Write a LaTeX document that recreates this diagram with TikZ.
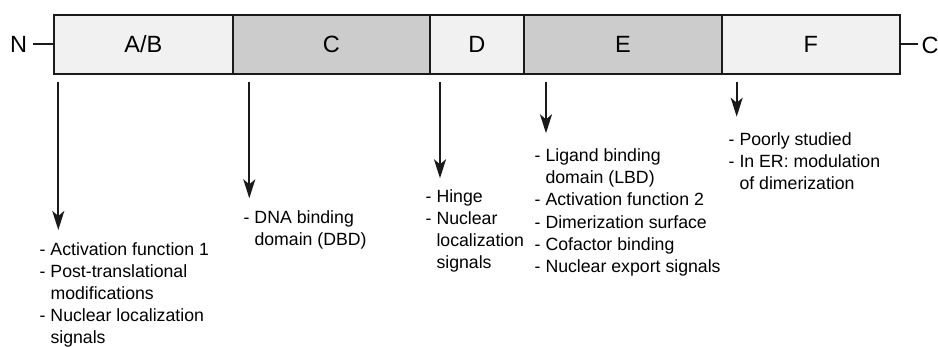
\documentclass[tikz,border=0pt]{standalone}
\usepackage{fontspec}
\setmainfont{Liberation Sans}
\usetikzlibrary{arrows.meta,calc}
\definecolor{edge}{HTML}{1A1A1A}
\definecolor{lightfill}{HTML}{F1F1F1}
\definecolor{darkfill}{HTML}{CCCCCC}
\newcommand\myind{\hphantom{- }}
\begin{document}
\begin{tikzpicture}[x=1pt,y=-1pt,
 dom/.style={draw=edge,line width=1.8pt,minimum height=59pt,inner sep=0pt,
   font=\fontsize{23.5}{28}\selectfont,anchor=north west},
 light/.style={dom,fill=lightfill},
 dark/.style={dom,fill=darkfill},
 note/.style={anchor=north west,inner sep=0pt,align=left,
   font=\fontsize{17.7}{22.2}\selectfont},
 arr/.style={draw=edge,line width=2pt,-{Stealth[length=19pt,width=12pt,inset=5pt]}},
 stub/.style={draw=edge,line width=1.8pt},
 term/.style={inner sep=0pt,font=\fontsize{23.5}{28}\selectfont},
]
\useasboundingbox (0,0) rectangle (938,347);
% domains
\node[light,minimum width=179pt] (ab) at (53,14) {A/B};
\node[dark,minimum width=197pt] (c) at (232,14) {C};
\node[light,minimum width=94pt] (d) at (429,14) {D};
\node[dark,minimum width=198pt] (e) at (523,14) {E};
\node[light,minimum width=178pt] (f) at (721,14) {F};
% termini
\node[term,anchor=base east] (nt) at (27.2,52.7) {N};
\node[term,anchor=base west] (ct) at (921.5,53.3) {C};
\draw[stub,shorten <=6pt] (nt.east |- ab.west) -- (ab.west);
\draw[stub,shorten >=3.5pt] (f.east) -- (f.east -| ct.west);
% notes
\node[note] (abt) at (39.5,242.0) {- Activation function 1\\- Post-translational\\\myind modifications\\- Nuclear localization\\\myind signals};
\node[note] (ctx) at (243.5,210.0) {- DNA binding\\\myind domain (DBD)};
\node[note] (dt) at (425.5,189.3) {- Hinge\\- Nuclear\\\myind localization\\\myind signals};
\node[note] (et) at (534.5,148.5) {- Ligand binding\\\myind domain (LBD)\\- Activation function 2\\- Dimerization surface\\- Cofactor binding\\- Nuclear export signals};
\node[note] (ft) at (728.5,132.0) {- Poorly studied\\- In ER: modulation\\\myind of dimerization};
% arrows
\coordinate (abS) at (58.3,81.7);  \coordinate (abE) at (58.3,230);
\coordinate (cS) at (249.3,81.7);  \coordinate (cE) at (249.3,198.3);
\coordinate (dS) at (440,81.7);    \coordinate (dE) at (440,178.3);
\coordinate (eS) at (546,81.7);    \coordinate (eE) at (546,133.3);
\coordinate (fS) at (736.7,81.7);  \coordinate (fE) at (736.7,116.7);
\draw[arr] (abS) -- (abE);
\draw[arr] (cS) -- (cE);
\draw[arr] (dS) -- (dE);
\draw[arr] (eS) -- (eE);
\draw[arr] (fS) -- (fE);
\end{tikzpicture}
\end{document}
